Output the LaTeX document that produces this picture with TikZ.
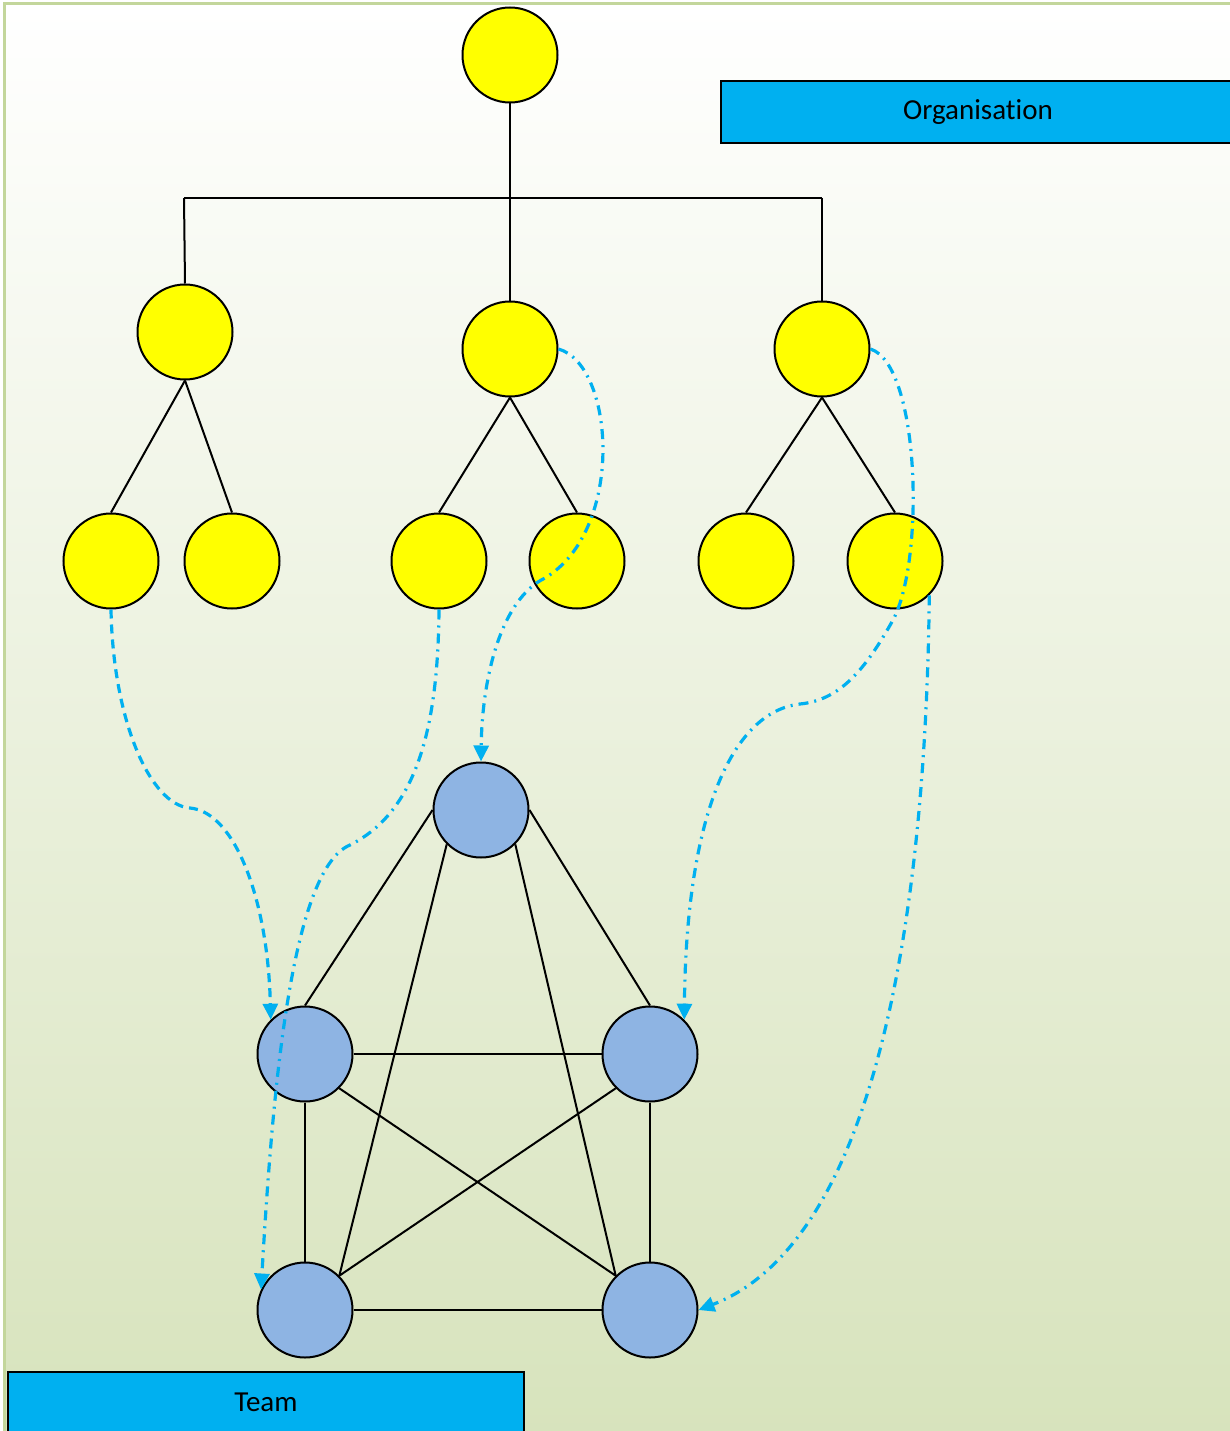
\documentclass[tikz,border=0pt]{standalone}
\usepackage{fontspec}
\setmainfont[Ligatures=NoCommon]{Carlito}
\usetikzlibrary{arrows.meta}
\definecolor{yel}{RGB}{255,255,0}
\definecolor{bluefill}{RGB}{142,180,227}
\definecolor{cyanline}{RGB}{0,176,240}
\definecolor{framegreen}{RGB}{195,214,155}
\definecolor{bggreen}{RGB}{215,227,188}
\begin{document}
\begin{tikzpicture}[x=1pt,y=-1pt,
  yelnode/.style={circle,draw=black,line width=2pt,fill=yel,minimum size=95pt,inner sep=0pt},
  bluenode/.style={circle,draw=black,line width=2pt,fill=bluefill,minimum size=95pt,inner sep=0pt},
  labelbox/.style={draw=black,line width=2pt,fill=cyanline,inner sep=0pt,anchor=north west,font=\fontsize{29}{32}\selectfont},
  treeline/.style={draw=black,line width=2pt},
  edgeline/.style={draw=black,line width=2pt},
  dashlink/.style={draw=cyanline,line width=3.2pt,dash pattern=on 9pt off 6pt,-{Triangle[length=16pt,width=15pt]}},
  dotlink/.style={draw=cyanline,line width=3.2pt,dash pattern=on 10pt off 6pt on 2pt off 6pt,-{Triangle[length=16pt,width=15pt]}}
]
\useasboundingbox (0,0) rectangle (1230,1431);
\clip (0,0) rectangle (1230,1431);
\shade[top color=white,bottom color=bggreen] (4,4) rectangle (1240,1440);
\draw[framegreen,line width=3pt] (4,1440) -- (4,4) -- (1240,4);

% organisation tree
\node[yelnode] (top) at (510,55) {};
\node[yelnode] (l2) at (185,332) {};
\node[yelnode] (m2) at (510,349) {};
\node[yelnode] (r2) at (822,349) {};
\node[yelnode] (l3a) at (111,561) {};
\node[yelnode] (l3b) at (232,561) {};
\node[yelnode] (m3a) at (439,561) {};
\node[yelnode] (m3b) at (577,561) {};
\node[yelnode] (r3a) at (746,561) {};
\node[yelnode] (r3b) at (895,561) {};

\coordinate (barL) at (184,198);
\coordinate (barR) at (822,198);
\draw[treeline] (top.south) -- (m2.north);
\draw[treeline] (barL) -- (barR);
\draw[treeline] (barL) -- (l2.north);
\draw[treeline] (barR) -- (r2.north);
\draw[treeline] (l2.south) -- (l3a.north);
\draw[treeline] (l2.south) -- (l3b.north);
\draw[treeline] (m2.south) -- (m3a.north);
\draw[treeline] (m2.south) -- (m3b.north);
\draw[treeline] (r2.south) -- (r3a.north);
\draw[treeline] (r2.south) -- (r3b.north);

% team network
\node[bluenode] (t) at (481,810) {};
\node[bluenode] (ml) at (305,1054) {};
\node[bluenode] (mr) at (650,1054) {};
\node[bluenode] (bl) at (305,1310) {};
\node[bluenode] (br) at (650,1310) {};

\draw[edgeline] (t.west) -- (ml.north);
\draw[edgeline] (t.east) -- (mr.north);
\draw[edgeline] (t.south west) -- (bl.north east);
\draw[edgeline] (t.south east) -- (br.north west);
\draw[edgeline] (ml.east) -- (mr.west);
\draw[edgeline] (ml.south east) -- (br.north west);
\draw[edgeline] (mr.south west) -- (bl.north east);
\draw[edgeline] (ml.south) -- (bl.north);
\draw[edgeline] (mr.south) -- (br.north);
\draw[edgeline] (bl.east) -- (br.west);

% labels
\node[labelbox,minimum width=520pt,minimum height=62pt] (org) at (720,80) {\hspace*{-6pt}Organisation};
\node[labelbox,minimum width=516pt,minimum height=60pt] (team) at (7,1371) {Team};

% links
\draw[dashlink] (l3a.south) .. controls (113,720) and (150,805) .. (190,808)
  .. controls (235,812) and (268,900) .. (ml.north west);
\draw[dotlink] (m3a.south) .. controls (438,720) and (420,810) .. (350,845)
  .. controls (290,870) and (272,1100) .. (bl.155);
\draw[dotlink] (m2.east) .. controls (615,365) and (625,530) .. (545,578)
  .. controls (500,600) and (482,680) .. (t.north);
\draw[dotlink] (r2.east) .. controls (920,365) and (925,560) .. (893,620)
  .. controls (865,670) and (840,700) .. (800,704)
  .. controls (730,712) and (686,820) .. (mr.north east);
\draw[dotlink] (r3b.south east) .. controls (926,900) and (880,1240) .. (br.east);
\end{tikzpicture}
\end{document}
